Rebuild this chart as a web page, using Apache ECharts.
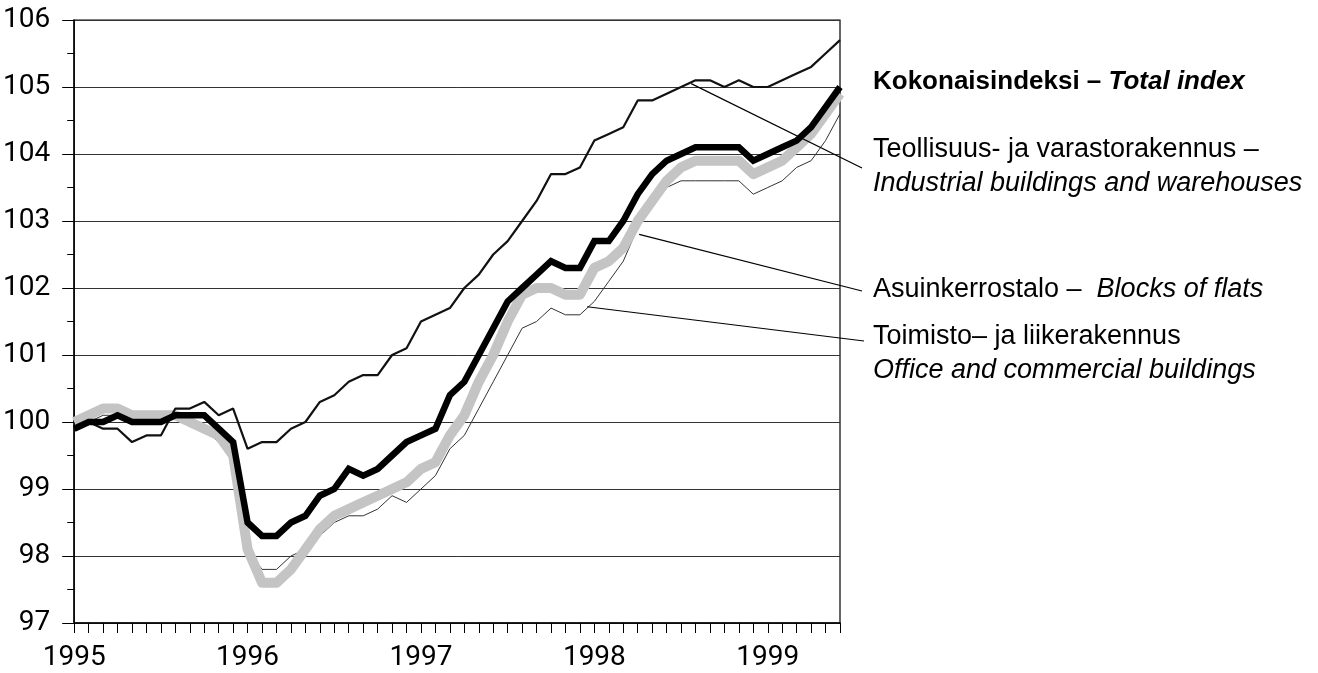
<!DOCTYPE html>
<html>
<head>
<meta charset="utf-8">
<script src="https://cdn.jsdelivr.net/npm/echarts@6/dist/echarts.min.js"></script>
<style>
html,body{margin:0;padding:0;background:#fff;}
#c{width:1318px;height:673px;}
</style>
</head>
<body>
<div id="c"></div>
<script>
// Monthly index values, Jan 1995 .. Jun 1999 (54 months)
const yearLabels = ['1995', '1996', '1997', '1998', '1999'];

const totalIndex = [
  99.9, 100.0, 100.0, 100.1, 100.0, 100.0, 100.0, 100.1, 100.1, 100.1, 99.9, 99.7,
  98.5, 98.3, 98.3, 98.5, 98.6, 98.9, 99.0, 99.3, 99.2, 99.3, 99.5, 99.7,
  99.8, 99.9, 100.4, 100.6, 101.0, 101.4, 101.8, 102.0, 102.2, 102.4, 102.3, 102.3,
  102.7, 102.7, 103.0, 103.4, 103.7, 103.9, 104.0, 104.1, 104.1, 104.1, 104.1, 103.9,
  104.0, 104.1, 104.2, 104.4, 104.7, 105.0
];
const industrial = [
  99.9, 100.0, 99.9, 99.9, 99.7, 99.8, 99.8, 100.2, 100.2, 100.3, 100.1, 100.2,
  99.6, 99.7, 99.7, 99.9, 100.0, 100.3, 100.4, 100.6, 100.7, 100.7, 101.0, 101.1,
  101.5, 101.6, 101.7, 102.0, 102.2, 102.5, 102.7, 103.0, 103.3, 103.7, 103.7, 103.8,
  104.2, 104.3, 104.4, 104.8, 104.8, 104.9, 105.0, 105.1, 105.1, 105.0, 105.1, 105.0,
  105.0, 105.1, 105.2, 105.3, 105.5, 105.7
];
const blocksOfFlats = [
  100.0, 100.1, 100.2, 100.2, 100.1, 100.1, 100.1, 100.1, 100.0, 99.9, 99.8, 99.5,
  98.1, 97.6, 97.6, 97.8, 98.1, 98.4, 98.6, 98.7, 98.8, 98.9, 99.0, 99.1,
  99.3, 99.4, 99.8, 100.1, 100.6, 101.0, 101.5, 101.9, 102.0, 102.0, 101.9, 101.9,
  102.3, 102.4, 102.6, 103.0, 103.3, 103.6, 103.8, 103.9, 103.9, 103.9, 103.9, 103.7,
  103.8, 103.9, 104.1, 104.3, 104.6, 104.9
];
const office = [
  99.9, 100.0, 100.1, 100.1, 100.1, 100.1, 100.1, 100.1, 100.0, 99.9, 99.7, 99.5,
  98.1, 97.8, 97.8, 98.0, 98.1, 98.3, 98.5, 98.6, 98.6, 98.7, 98.9, 98.8,
  99.0, 99.2, 99.6, 99.8, 100.2, 100.6, 101.0, 101.4, 101.5, 101.7, 101.6, 101.6,
  101.8, 102.1, 102.4, 102.9, 103.3, 103.5, 103.6, 103.6, 103.6, 103.6, 103.6, 103.4,
  103.5, 103.6, 103.8, 103.9, 104.2, 104.6
];

const FONT_AXIS = "'Liberation Sans Narrow', 'Arial Narrow', Roboto, 'Liberation Sans', sans-serif";
const FONT_TEXT = "'Liberation Sans', Arial, sans-serif";

function pairs(arr) { return arr.map((v, i) => [i, v]); }

const chart = echarts.init(document.getElementById('c'), null, { renderer: 'canvas' });

const option = {
  animation: false,
  backgroundColor: '#fff',
  grid: { left: 69, top: 20, right: 478, bottom: 50, show: true, borderColor: '#000', borderWidth: 1.2, backgroundColor: 'transparent' },
  xAxis: {
    type: 'value', min: 0, max: totalIndex.length - 1, interval: 1,
    axisLine: { show: true, lineStyle: { color: '#000', width: 1.5 } },
    axisTick: { show: true, length: 10, lineStyle: { color: '#000', width: 1 } },
    splitLine: { show: false },
    axisLabel: {
      margin: 21, color: '#000', fontSize: 28, fontFamily: FONT_AXIS,
      formatter: v => (v % 12 === 0 ? yearLabels[v / 12] : '')
    }
  },
  yAxis: {
    type: 'value', min: 97, max: 106, interval: 1,
    axisLine: { show: true, lineStyle: { color: '#000', width: 1.5 } },
    axisTick: { show: true, length: 12, lineStyle: { color: '#000' } },
    minorTick: { show: true, splitNumber: 2, length: 7, lineStyle: { color: '#000' } },
    splitLine: { show: true, lineStyle: { color: '#333', width: 1 } },
    axisLabel: { margin: 24, color: '#000', fontSize: 28, fontFamily: FONT_AXIS }
  },
  series: [
    {
      name: 'Toimisto- ja liikerakennus', type: 'line', data: pairs(office), symbol: 'none', clip: false,
      lineStyle: { color: '#333', width: 1 }, z: 2
    },
    {
      name: 'Asuinkerrostalo', type: 'line', data: pairs(blocksOfFlats), symbol: 'none', clip: false,
      lineStyle: { color: '#c4c4c4', width: 10, join: 'round' }, z: 3
    },
    {
      name: 'Teollisuus- ja varastorakennus', type: 'line', data: pairs(industrial), symbol: 'none', clip: false,
      lineStyle: { color: '#111', width: 2.2 }, z: 4
    },
    {
      name: 'Kokonaisindeksi', type: 'line', data: pairs(totalIndex), symbol: 'none', clip: false,
      lineStyle: { color: '#000', width: 6.5, join: 'miter' }, z: 5
    }
  ]
};
chart.setOption(option);

// Leader lines anchored to data coordinates, ending at the labels
const leaders = [
  { from: [42.7, 105.05], to: [862, 168] },
  { from: [39.1, 102.8], to: [862, 291] },
  { from: [35.5, 101.72], to: [864, 341] }
];
const graphics = leaders.map(l => {
  const p = chart.convertToPixel({ gridIndex: 0 }, l.from);
  return { type: 'line', z: 10, shape: { x1: p[0], y1: p[1], x2: l.to[0], y2: l.to[1] }, style: { stroke: '#000', lineWidth: 1.2 } };
});

const tx = 873;
graphics.push(
  { type: 'text', z: 10, left: tx, top: 69, style: {
      text: '{b|Kokonaisindeksi – }{bi|Total index}',
      rich: {
        b: { fontFamily: FONT_TEXT, fontSize: 26, fontWeight: 'bold', fill: '#000' },
        bi: { fontFamily: FONT_TEXT, fontSize: 26, fontWeight: 'bold', fontStyle: 'italic', fill: '#000' }
      } } },
  { type: 'text', z: 10, left: tx, top: 136, style: { text: 'Teollisuus- ja varastorakennus –', fontFamily: FONT_TEXT, fontSize: 27, fill: '#000' } },
  { type: 'text', z: 10, left: tx, top: 170, style: { text: 'Industrial buildings and warehouses', fontFamily: FONT_TEXT, fontSize: 27, fontStyle: 'italic', fill: '#000' } },
  { type: 'text', z: 10, left: tx, top: 276, style: {
      text: '{r|Asuinkerrostalo –  }{i|Blocks of flats}',
      rich: {
        r: { fontFamily: FONT_TEXT, fontSize: 27, fill: '#000' },
        i: { fontFamily: FONT_TEXT, fontSize: 27, fontStyle: 'italic', fill: '#000' }
      } } },
  { type: 'text', z: 10, left: tx, top: 323, style: { text: 'Toimisto– ja liikerakennus', fontFamily: FONT_TEXT, fontSize: 27, fill: '#000' } },
  { type: 'text', z: 10, left: tx, top: 357, style: { text: 'Office and commercial buildings', fontFamily: FONT_TEXT, fontSize: 27, fontStyle: 'italic', fill: '#000' } }
);
chart.setOption({ graphic: graphics });
</script>
</body>
</html>
